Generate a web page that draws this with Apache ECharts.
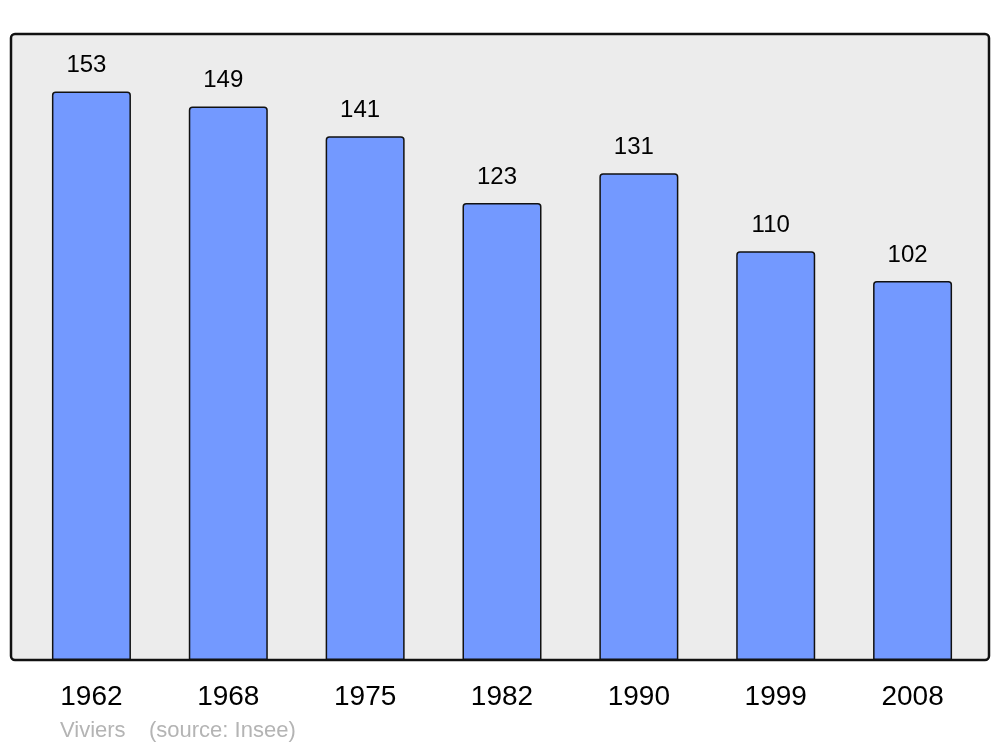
<!DOCTYPE html>
<html>
<head>
<meta charset="utf-8">
<script src="https://cdn.jsdelivr.net/npm/echarts@6/dist/echarts.min.js"></script>
<style>
html,body{margin:0;padding:0;background:#fff;}
#container{width:1000px;height:747px;}
</style>
</head>
<body>
<div id="container"></div>
<script>
// donnees de population
var years = ['1962', '1968', '1975', '1982', '1990', '1999', '2008'];
var population = [153, 149, 141, 123, 131, 110, 102];
var commune = 'Viviers';
var source = '(source: Insee)';

var dom = document.getElementById('container');
var myChart = echarts.init(dom, null, {renderer: 'canvas'});

var option = {
    animation: false,
    backgroundColor: '#ffffff',
    grid: {
        left: 23,
        right: 19,
        top: 34,
        bottom: 87
    },
    graphic: [
        {
            type: 'rect',
            z: -10,
            shape: {x: 11, y: 34, width: 978, height: 626, r: 4},
            style: {fill: '#ececec', stroke: '#111111', lineWidth: 2.5}
        },
        {
            type: 'text',
            x: 60,
            y: 731,
            style: {
                text: commune,
                fill: '#b4b4b4',
                font: '22px "Liberation Sans", Arial, sans-serif',
                verticalAlign: 'middle'
            }
        },
        {
            type: 'text',
            x: 149,
            y: 731,
            style: {
                text: source,
                fill: '#b4b4b4',
                font: '22px "Liberation Sans", Arial, sans-serif',
                verticalAlign: 'middle'
            }
        }
    ],
    xAxis: {
        type: 'category',
        data: years,
        axisLine: {show: false},
        axisTick: {show: false},
        axisLabel: {
            color: '#000',
            fontSize: 28,
            fontFamily: '"Liberation Sans", Arial, sans-serif',
            margin: 23
        }
    },
    yAxis: {
        type: 'value',
        min: 0,
        max: 168.5,
        show: false,
        splitLine: {show: false}
    },
    series: [
        {
            type: 'bar',
            data: population,
            barWidth: 79,
            itemStyle: {
                color: '#7399ff',
                borderColor: '#111111',
                borderWidth: 1.5,
                borderRadius: [3, 3, 0, 0]
            },
            label: {
                show: true,
                position: 'top',
                distance: 14,
                offset: [-5, 0],
                color: '#000',
                fontSize: 24,
                fontFamily: '"Liberation Sans", Arial, sans-serif'
            }
        }
    ]
};

myChart.setOption(option);
window.addEventListener('resize', myChart.resize);
</script>
</body>
</html>
